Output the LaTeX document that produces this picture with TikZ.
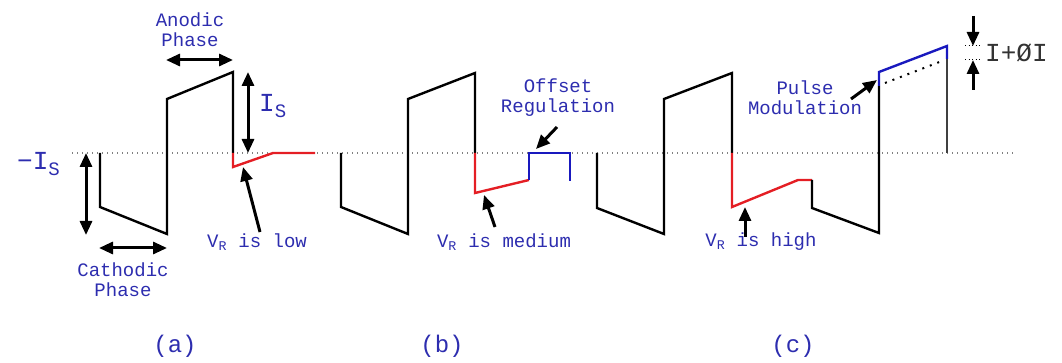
\documentclass[tikz,border=0pt]{standalone}
\usepackage{fontspec}
\setmonofont{Liberation Mono}
\usetikzlibrary{arrows.meta, positioning, calc}
\definecolor{lblblue}{RGB}{45,45,175}
\definecolor{wavered}{RGB}{228,30,36}
\definecolor{waveblue}{RGB}{25,25,190}

\begin{document}
\begin{tikzpicture}[
        x=1pt, y=-1pt,
        wave/.style={line width=2.4pt, line join=miter},
        lbl/.style={text=lblblue, font=\ttfamily\fontsize{19}{20}\selectfont, align=center, inner sep=0pt},
        big/.style={text=lblblue, font=\ttfamily\fontsize{26}{28}\selectfont, inner sep=0pt},
        dimarrow/.style={{Triangle[length=14pt, width=12pt]}-{Triangle[length=14pt, width=12pt]}, line width=3pt},
        pointer/.style={-{Triangle[length=14pt, width=12pt]}, line width=3pt},
        baseline/.style={line width=1.4pt, gray, dash pattern=on 1.4pt off 3.6pt}
    ]
    \useasboundingbox (0,0) rectangle (1062,363);
    \draw[baseline] (72,153) -- (1015,153);

    % (a)
    \draw[wave] (100,153) -- (100,207) -- (167,234) -- (167,99) -- (233,72) -- (233,153);
    \draw[wave, wavered] (233,153) -- (233,167) -- (273,153) -- (315,153);
    \coordinate (anoL) at (166,60);
    \coordinate (anoR) at (233,60);
    \draw[dimarrow] (anoL) -- (anoR);
    \node[lbl] (anodic) at (190,30) {Anodic\\Phase};
    \coordinate (isTop) at (248,72);
    \coordinate (isBot) at (248,153);
    \draw[dimarrow] (isTop) -- (isBot);
    \node[big, anchor=west] (is) at (259,106) {I\raisebox{-6pt}{\fontsize{19}{20}\selectfont S}};
    \coordinate (misTop) at (86,153);
    \coordinate (misBot) at (86,235);
    \draw[dimarrow] (misTop) -- (misBot);
    \node[big, anchor=west] (mis) at (17,164) {−I\raisebox{-6pt}{\fontsize{19}{20}\selectfont S}};
    \coordinate (catL) at (99,248);
    \coordinate (catR) at (167,248);
    \draw[dimarrow] (catL) -- (catR);
    \node[lbl] (cathodic) at (123,280) {Cathodic\\Phase};
    \node[lbl] (low) at (257,242) {V\textsubscript{R} is low};
    \coordinate (lowtip) at (243,167);
    \draw[pointer] (260,232) -- (lowtip);

    % (b)
    \draw[wave] (341,153) -- (341,207) -- (408,234) -- (408,99) -- (475,73) -- (475,153);
    \draw[wave, wavered] (475,153) -- (475,193) -- (529,180);
    \draw[wave, waveblue] (529,180) -- (529,153) -- (570,153) -- (570,181);
    \node[lbl] (offset) at (558,98) {Offset\\Regulation};
    \coordinate (offtip) at (536,149);
    \draw[pointer] (557,127) -- (offtip);
    \node[lbl] (medium) at (504,242) {V\textsubscript{R} is medium};
    \coordinate (medtip) at (484,195);
    \draw[pointer] (495,227) -- (medtip);

    % (c)
    \draw[wave] (597,153) -- (597,208) -- (664,234) -- (664,99) -- (732,73) -- (732,153);
    \draw[wave, wavered] (732,153) -- (732,207) -- (798,180) -- (812,180);
    \draw[wave] (812,180) -- (812,208) -- (879,233) -- (879,86);
    \draw[wave, waveblue] (879,86) -- (879,72) -- (947,46) -- (947,59);
    \draw[line width=1.6pt, black!75] (947,59) -- (947,153);
    \draw[line width=2pt, dash pattern=on 2pt off 6pt] (885,83) -- (942,61);
    \node[lbl] (high) at (761,242) {V\textsubscript{R} is high};
    \coordinate (hightip) at (745,207);
    \draw[pointer] (745,237) -- (hightip);
    \node[lbl] (pulse) at (805,98) {Pulse\\Modulation};
    \coordinate (pulsetip) at (877,80);
    \draw[pointer] (851,99) -- (pulsetip);
    \coordinate (dTop) at (973,46);
    \coordinate (dBot) at (973,60);
    \draw[pointer] (973,16) -- (dTop);
    \draw[pointer] (973,90) -- (dBot);
    \draw[line width=1pt, dash pattern=on 1pt off 2.5pt] (965,46) -- (982,46);
    \draw[line width=1pt, dash pattern=on 1pt off 2.5pt] (965,60) -- (982,60);
    \node[big, text=black!80, anchor=west] (delta) at (985,53) {I+ØI};

    % captions
    \node[lbl, font=\ttfamily\fontsize{24}{25}\selectfont] (capa) at (175,346) {(a)};
    \node[lbl, font=\ttfamily\fontsize{24}{25}\selectfont] (capb) at (442,346) {(b)};
    \node[lbl, font=\ttfamily\fontsize{24}{25}\selectfont] (capc) at (793,346) {(c)};
\end{tikzpicture}
\end{document}
